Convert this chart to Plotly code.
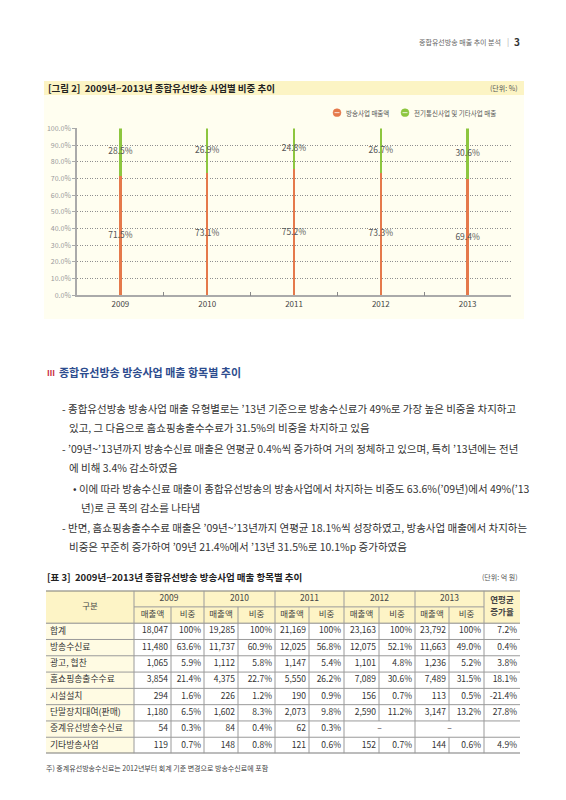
import plotly.graph_objects as go

# ---------------- data ----------------
years = ["2009", "2010", "2011", "2012", "2013"]
broadcast_share = [71.5, 73.1, 75.2, 73.3, 69.4]
other_share = [28.5, 26.9, 24.8, 26.7, 30.6]
y_ticks = [0, 10, 20, 30, 40, 50, 60, 70, 80, 90, 100]
series_names = ["방송사업 매출액", "전기통신사업 및 기타사업 매출"]

table_items = ["합계", "방송수신료", "광고, 협찬", "홈쇼핑송출수수료", "시설설치",
               "단말장치대여(판매)", "중계유선방송수신료", "기타방송사업"]
sales_2009 = [18047, 11480, 1065, 3854, 294, 1180, 54, 119]
share_2009 = [100, 63.6, 5.9, 21.4, 1.6, 6.5, 0.3, 0.7]
sales_2010 = [19285, 11737, 1112, 4375, 226, 1602, 84, 148]
share_2010 = [100, 60.9, 5.8, 22.7, 1.2, 8.3, 0.4, 0.8]
sales_2011 = [21169, 12025, 1147, 5550, 190, 2073, 62, 121]
share_2011 = [100, 56.8, 5.4, 26.2, 0.9, 9.8, 0.3, 0.6]
sales_2012 = [23163, 12075, 1101, 7089, 156, 2590, None, 152]
share_2012 = [100, 52.1, 4.8, 30.6, 0.7, 11.2, None, 0.7]
sales_2013 = [23792, 11663, 1236, 7489, 113, 3147, None, 144]
share_2013 = [100, 49.0, 5.2, 31.5, 0.5, 13.2, None, 0.6]
cagr = [7.2, 0.4, 3.8, 18.1, -21.4, 27.8, None, 4.9]

FONT = "Noto Sans CJK KR"
ORANGE = "#E5794B"
GREEN = "#8DC63F"

W, H = 566, 800
def px(x): return x / W
def py(y): return 1 - y / H

fig = go.Figure()

# ---------------- chart ----------------
fig.add_trace(go.Bar(x=years, y=broadcast_share, name=series_names[0],
                     marker=dict(color=ORANGE, line=dict(width=0)), width=0.028))
fig.add_trace(go.Bar(x=years, y=other_share, name=series_names[1],
                     marker=dict(color=GREEN, line=dict(width=0)), width=0.028))
fig.add_trace(go.Scatter(x=years, y=[v / 2 for v in broadcast_share], mode="text",
                         text=[f"{v:.1f}%" for v in broadcast_share],
                         textfont=dict(family=FONT, size=8.5, color="#555"),
                         showlegend=False, hoverinfo="skip"))
fig.add_trace(go.Scatter(x=years, y=[b + o / 2 for b, o in zip(broadcast_share, other_share)],
                         mode="text", text=[f"{v:.1f}%" for v in other_share],
                         textfont=dict(family=FONT, size=8.5, color="#555"),
                         showlegend=False, hoverinfo="skip"))

# ---------------- table (on x2/y2) ----------------
col_w = [88, 37, 33, 34, 37, 34, 35, 35, 36, 34, 35, 36]
edges = [0]
for w in col_w:
    edges.append(edges[-1] + w)
TW = edges[-1]
n_rows = 2 + len(table_items)

def cx(i, j=None):
    j = i if j is None else j
    return (edges[i] + edges[j + 1]) / 2

def fmt_sales(v):
    return "–" if v is None else f"{v:,}"

def fmt_share(v):
    if v is None:
        return ""
    return "100%" if v == 100 else f"{v:.1f}%"

shapes = []
shapes.append(dict(type="rect", xref="paper", yref="paper", x0=px(44), x1=px(524),
                   y0=py(90), y1=py(76), fillcolor="#FCF4C4", line=dict(width=0), layer="below"))
shapes.append(dict(type="rect", xref="paper", yref="paper", x0=px(44), x1=px(524),
                   y0=py(317), y1=py(90), fillcolor="#FFFEF0", line=dict(width=0), layer="below"))
for xi, col in [(333, ORANGE), (401, GREEN)]:
    shapes.append(dict(type="circle", xref="paper", yref="paper", x0=px(xi), x1=px(xi + 8),
                       y0=py(112), y1=py(104), fillcolor=col, line=dict(color=col, width=0.5)))
    shapes.append(dict(type="line", xref="paper", yref="paper", x0=px(xi + 1.5), x1=px(xi + 6.5),
                       y0=py(108), y1=py(108), line=dict(color="white", width=0.8)))
shapes.append(dict(type="rect", xref="x2", yref="y2", x0=0, x1=TW, y0=0, y1=2,
                   fillcolor="#FDF4C6", line=dict(width=0), layer="below"))
shapes.append(dict(type="rect", xref="x2", yref="y2", x0=0, x1=edges[1], y0=2, y1=n_rows,
                   fillcolor="#FFFBE3", line=dict(width=0), layer="below"))

thin = dict(color="#9a9a9a", width=1)
shapes.append(dict(type="line", xref="x2", yref="y2", x0=0, x1=TW, y0=0, y1=0,
                   line=dict(color="#7a7a7a", width=2)))
shapes.append(dict(type="line", xref="x2", yref="y2", x0=edges[1], x1=edges[11], y0=1, y1=1, line=thin))
shapes.append(dict(type="line", xref="x2", yref="y2", x0=0, x1=TW, y0=2, y1=2,
                   line=dict(color="#8a8a8a", width=1)))
for r in range(3, n_rows):
    shapes.append(dict(type="line", xref="x2", yref="y2", x0=0, x1=TW, y0=r, y1=r, line=thin))
shapes.append(dict(type="line", xref="x2", yref="y2", x0=0, x1=TW, y0=n_rows, y1=n_rows,
                   line=dict(color="#7a7a7a", width=2)))
merged_row = 2 + table_items.index("중계유선방송수신료")
for k in range(1, 12):
    x = edges[k]
    if k in (1, 3, 5, 7, 9, 11):
        shapes.append(dict(type="line", xref="x2", yref="y2", x0=x, x1=x, y0=0, y1=n_rows, line=thin))
    elif k in (8, 10):
        shapes.append(dict(type="line", xref="x2", yref="y2", x0=x, x1=x, y0=1, y1=merged_row, line=thin))
        shapes.append(dict(type="line", xref="x2", yref="y2", x0=x, x1=x, y0=merged_row + 1, y1=n_rows, line=thin))
    else:
        shapes.append(dict(type="line", xref="x2", yref="y2", x0=x, x1=x, y0=1, y1=n_rows, line=thin))

tfont = dict(family=FONT, size=8.5, color="#333")
hx, hy, ht = [cx(0)], [1], ["구분"]
for g, yr in enumerate(years):
    c = 1 + 2 * g
    hx += [cx(c, c + 1), cx(c), cx(c + 1)]
    hy += [0.5, 1.5, 1.5]
    ht += [yr, "매출액", "비중"]
fig.add_trace(go.Scatter(x=hx, y=hy, text=ht, mode="text", xaxis="x2", yaxis="y2",
                         textfont=dict(family=FONT, size=8.5, color="#444"),
                         showlegend=False, hoverinfo="skip"))
fig.add_trace(go.Scatter(x=[cx(11)], y=[1], text=["<b>연평균</b><br><b>증가율</b>"], mode="text",
                         xaxis="x2", yaxis="y2", textfont=dict(family=FONT, size=8.5, color="#444"),
                         showlegend=False, hoverinfo="skip"))
ry = [2.5 + i for i in range(len(table_items))]
fig.add_trace(go.Scatter(x=[4] * len(table_items), y=ry, text=table_items, mode="text",
                         textposition="middle right", xaxis="x2", yaxis="y2",
                         textfont=dict(family=FONT, size=8.8, color="#333"),
                         showlegend=False, hoverinfo="skip"))
sales_cols = [sales_2009, sales_2010, sales_2011, sales_2012, sales_2013]
share_cols = [share_2009, share_2010, share_2011, share_2012, share_2013]
nx, ny, nt = [], [], []
mx, my, mt = [], [], []
for g in range(5):
    c = 1 + 2 * g
    for i in range(len(table_items)):
        if sales_cols[g][i] is None:
            mx.append(cx(c, c + 1)); my.append(ry[i]); mt.append("–")
            continue
        nx.append(edges[c + 1] - 3); ny.append(ry[i]); nt.append(fmt_sales(sales_cols[g][i]))
        nx.append(edges[c + 2] - 3); ny.append(ry[i]); nt.append(fmt_share(share_cols[g][i]))
for i in range(len(table_items)):
    if cagr[i] is not None:
        nx.append(edges[12] - 3); ny.append(ry[i]); nt.append(f"{cagr[i]:.1f}%")
fig.add_trace(go.Scatter(x=nx, y=ny, text=nt, mode="text", textposition="middle left",
                         xaxis="x2", yaxis="y2", textfont=tfont, showlegend=False, hoverinfo="skip"))
fig.add_trace(go.Scatter(x=mx, y=my, text=mt, mode="text", xaxis="x2", yaxis="y2",
                         textfont=tfont, showlegend=False, hoverinfo="skip"))

# ---------------- annotations (page text) ----------------
ann = []
def add_text(x, y, text, size, color="#333", anchor="left", bold=False):
    ann.append(dict(x=px(x), y=py(y), xref="paper", yref="paper", text=f"<b>{text}</b>" if bold else text,
                    showarrow=False, xanchor=anchor, yanchor="middle", align=anchor,
                    font=dict(family=FONT, size=size, color=color)))

add_text(503, 36, "종합유선방송 매출 추이 분석", 7, "#666", "right")
add_text(508, 36, "|", 8, "#aaa", "center")
add_text(512, 36, "3", 10, "#333", "left", bold=True)
add_text(46, 83, "[그림 2]  2009년~2013년 종합유선방송 사업별 비중 추이", 9.5, "#222", bold=True)
add_text(520, 83, "(단위: %)", 7, "#555", "right")
add_text(344, 108, series_names[0], 6.5, "#555")
add_text(412, 108, series_names[1], 6.5, "#555")

add_text(45, 371, "Ⅲ", 8, "#C8283A", bold=True)
add_text(57, 371, "종합유선방송 방송사업 매출 항목별 추이", 11, "#2D4C8E", bold=True)

body = [
    (60, 408, "- 종합유선방송 방송사업 매출 유형별로는 ’13년 기준으로 방송수신료가 49%로 가장 높은 비중을 차지하고"),
    (67, 427, "있고, 그 다음으로 홈쇼핑송출수수료가 31.5%의 비중을 차지하고 있음"),
    (60, 448, "- ’09년~’13년까지 방송수신료 매출은 연평균 0.4%씩 증가하여 거의 정체하고 있으며, 특히 ’13년에는 전년"),
    (67, 467, "에 비해 3.4% 감소하였음"),
    (71, 489, "• 이에 따라 방송수신료 매출이 종합유선방송의 방송사업에서 차지하는 비중도 63.6%(’09년)에서 49%(’13"),
    (79, 508, "년)로 큰 폭의 감소를 나타냄"),
    (60, 528, "- 반면, 홈쇼핑송출수수료 매출은 ’09년~’13년까지 연평균 18.1%씩 성장하였고, 방송사업 매출에서 차지하는"),
    (67, 547, "비중은 꾸준히 증가하여 ’09년 21.4%에서 ’13년 31.5%로 10.1%p 증가하였음"),
]
for x, y, t in body:
    add_text(x, y, t, 10.5, "#333")

add_text(45, 578, "[표 3]  2009년~2013년 종합유선방송 방송사업 매출 항목별 추이", 9.5, "#222", bold=True)
add_text(520, 578, "(단위: 억 원)", 7, "#555", "right")
add_text(44, 772, "주) 중계유선방송수신료는 2012년부터 회계 기준 변경으로 방송수신료에 포함", 7, "#444")

fig.update_layout(
    width=W, height=H, margin=dict(l=0, r=0, t=0, b=0),
    paper_bgcolor="white", plot_bgcolor="rgba(0,0,0,0)",
    barmode="stack", bargap=0, showlegend=False,
    font=dict(family=FONT),
    shapes=shapes, annotations=ann,
    xaxis=dict(domain=[px(77), px(511)], anchor="y", showline=True, linecolor="#aaa", linewidth=1.5,
               ticks="inside", tickson="boundaries", ticklen=4, tickcolor="#888",
               tickfont=dict(family=FONT, size=8, color="#444"), showgrid=False, fixedrange=True),
    yaxis=dict(domain=[py(293), py(124)], anchor="x", range=[0, 100], tickvals=y_ticks,
               ticktext=[f"{v:.1f}%" for v in y_ticks], showline=True, linecolor="#aaa", linewidth=1.5,
               ticks="outside", ticklen=3, tickcolor="#aaa",
               tickfont=dict(family=FONT, size=7, color="#999"),
               showgrid=True, gridcolor="#8f8f8f", griddash="1px,1.5px", gridwidth=1, zeroline=False),
    xaxis2=dict(domain=[px(46), px(46 + TW)], anchor="y2", range=[0, TW], visible=False, fixedrange=True),
    yaxis2=dict(domain=[py(757), py(592)], anchor="x2", range=[n_rows, 0], visible=False, fixedrange=True),
)

fig.write_html("out.html", config={"displayModeBar": False},
               post_script="document.body.style.margin='0';")
